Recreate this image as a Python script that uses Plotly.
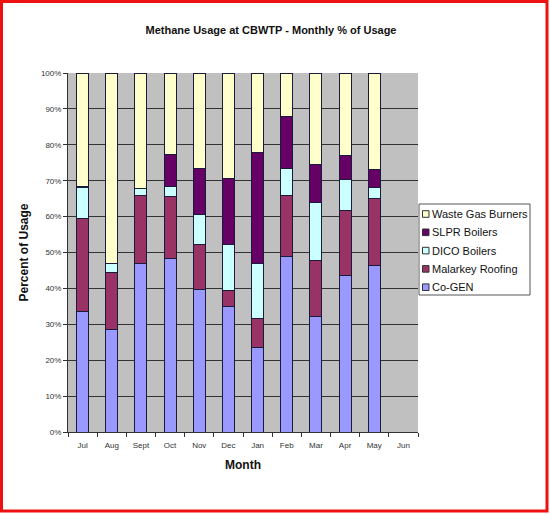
import plotly.graph_objects as go

months = ["Jul", "Aug", "Sept", "Oct", "Nov", "Dec", "Jan", "Feb", "Mar", "Apr", "May", "Jun"]
cogen = [33.5, 28.5, 46.8, 48.2, 39.6, 34.9, 23.6, 48.8, 32.1, 43.5, 46.3, None]
malarkey = [26.0, 16.0, 19.0, 17.5, 12.5, 4.5, 7.9, 17.2, 15.8, 18.3, 18.8, None]
dico = [8.5, 2.5, 2.0, 2.8, 8.5, 12.7, 15.5, 7.3, 16.0, 8.4, 3.1, None]
slpr = [0.5, 0.0, 0.0, 8.7, 12.8, 18.6, 30.8, 14.5, 10.7, 6.8, 5.0, None]
waste = [31.5, 53.0, 32.2, 22.8, 26.6, 29.3, 22.2, 12.2, 25.4, 23.0, 26.8, None]

series = [
    ("Co-GEN", cogen, "#9999FF"),
    ("Malarkey Roofing", malarkey, "#993366"),
    ("DICO Boilers", dico, "#CCFFFF"),
    ("SLPR Boilers", slpr, "#660066"),
    ("Waste Gas Burners", waste, "#FFFFCC"),
]

fig = go.Figure()
for name, vals, col in series:
    fig.add_trace(go.Bar(
        x=months, y=vals, name=name,
        marker=dict(color=col, line=dict(color="#1a1a3a", width=1)),
    ))

W, H = 550, 514
L, R, T, B = 68, 132, 73, 82
pw, ph = W - L - R, H - T - B


def px(x):
    return (x - L) / pw


def py(y):
    return (H - B - y) / ph


shapes = [
    # outer red frame
    dict(type="rect", xref="paper", yref="paper",
         x0=px(1.5), x1=px(W - 3), y0=py(H - 3), y1=py(1.5),
         line=dict(color="#EE1111", width=3), layer="above"),
    # legend box
    dict(type="rect", xref="paper", yref="paper",
         x0=px(419), x1=px(530), y0=py(295), y1=py(204),
         line=dict(color="#555", width=1), fillcolor="white", layer="above"),
]
annotations = []
row_y0, row_dy = 214, 18.3
for i, (name, vals, col) in enumerate(reversed(series)):
    cy = row_y0 + i * row_dy
    shapes.append(dict(type="rect", xref="paper", yref="paper",
                       x0=px(422.5), x1=px(429), y0=py(cy + 3.3), y1=py(cy - 3.3),
                       line=dict(color="#333", width=1), fillcolor=col, layer="above"))
    annotations.append(dict(text=name, xref="paper", yref="paper",
                            x=px(430), y=py(cy), xanchor="left", yanchor="middle",
                            showarrow=False, font=dict(size=11, color="#111")))

fig.update_layout(
    width=W, height=H,
    barmode="stack", bargap=0.59,
    margin=dict(l=L, r=R, t=T, b=B),
    paper_bgcolor="white", plot_bgcolor="#C0C0C0",
    font=dict(family="Liberation Sans, Arial, sans-serif", color="#222"),
    title=dict(text="<b>Methane Usage at CBWTP - Monthly % of Usage</b>",
               x=271 / W, xanchor="center", y=1 - 30 / H, yanchor="middle",
               font=dict(size=11, color="#111")),
    showlegend=False,
    xaxis=dict(
        title=dict(text="<b>Month</b>", font=dict(size=12, color="#111"), standoff=12),
        tickfont=dict(size=8, color="#333"), ticklabelstandoff=5,
        showline=True, linecolor="#333", linewidth=1,
        ticks="outside", tickson="boundaries", ticklen=4, tickcolor="#333",
        showgrid=False, range=[-0.5, 11.5],
    ),
    yaxis=dict(
        title=dict(text="<b>Percent of Usage</b>", font=dict(size=12, color="#111"), standoff=9),
        range=[0, 100], dtick=10, ticksuffix="%",
        tickfont=dict(size=8, color="#333"),
        showline=True, linecolor="#333", linewidth=1,
        ticks="outside", ticklen=4, tickcolor="#333",
        showgrid=True, gridcolor="#333", gridwidth=1, zeroline=False,
    ),
    shapes=shapes,
    annotations=annotations,
)

fig.write_html("out.html", config={"displayModeBar": False},
               post_script="document.body.style.margin='0';document.body.style.overflow='hidden';")
